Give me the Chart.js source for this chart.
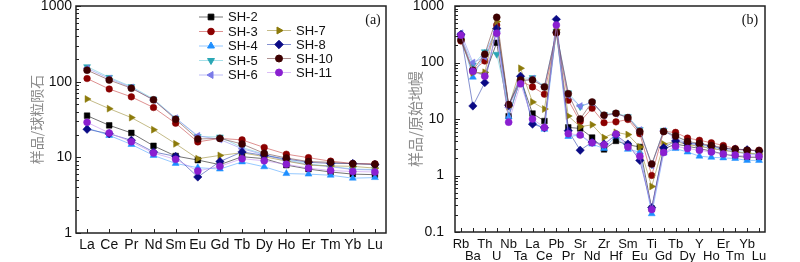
<!DOCTYPE html>
<html>
<head>
<meta charset="utf-8">
<script src="https://cdn.jsdelivr.net/npm/chart.js@4.4.0/dist/chart.umd.min.js"></script>
<style>
    html, body { margin: 0; padding: 0; background: #fff; }
    #wrap { position: relative; width: 800px; height: 262px; }
    .panel { position: absolute; top: 0; width: 400px; height: 262px; }
    #panelA { left: 0; }
    #panelB { left: 400px; }
</style>
</head>
<body>
<div id="wrap">
    <div class="panel" id="panelA"><canvas id="reeChart"></canvas></div>
    <div class="panel" id="panelB"><canvas id="spiderChart"></canvas></div>
</div>
<script>
// Samples
const sampleNames = ['SH-2', 'SH-3', 'SH-4', 'SH-5', 'SH-6', 'SH-7', 'SH-8', 'SH-10', 'SH-11'];

// (a) chondrite normalized REE
const reeElements = ['La', 'Ce', 'Pr', 'Nd', 'Sm', 'Eu', 'Gd', 'Tb', 'Dy', 'Ho', 'Er', 'Tm', 'Yb', 'Lu'];
const reeTicks = [1, 10, 100, 1000];
const reeSH2  = [35.5, 26.5, 21, 14.2, 10.4, 9.2, 8.0, 10.2, 9.6, 7.9, 7.0, 6.4, 6.0, 5.9];
const reeSH3  = [110, 80, 63, 45.5, 28.2, 16, 17.8, 17, 13.5, 11, 9.9, 8.9, 8.3, 8.2];
const reeSH4  = [24.5, 19.5, 14.8, 10.6, 8.3, 7.3, 7.0, 8.7, 7.5, 6.1, 6.0, 5.8, 5.3, 5.4];
const reeSH5  = [158, 114, 86, 59, 33, 18.8, 18.6, 13.5, 11, 9.2, 8.2, 7.6, 7.0, 6.9];
const reeSH6  = [150, 110, 84, 57, 33, 19.3, 17.2, 13, 10.8, 9.0, 8.0, 7.5, 6.9, 6.8];
const reeSH7  = [59, 44, 33.5, 23.2, 15.1, 9.6, 10.6, 11.5, 10.2, 8.9, 7.9, 7.7, 7.6, 7.2];
const reeSH8  = [23.5, 20.5, 16.8, 11.8, 10.3, 5.5, 8.8, 11.8, 10.6, 9.5, 8.6, 8.3, 8.3, 8.0];
const reeSH10 = [142, 105, 82, 57.5, 31.8, 17.5, 17.8, 15, 11.3, 9.8, 8.8, 8.6, 8.2, 8.1];
const reeSH11 = [29, 21, 16.1, 11.4, 9.4, 6.6, 7.6, 9.6, 9.0, 8.1, 7.2, 6.7, 6.5, 6.4];

// (b) primitive mantle normalized trace elements
const spiderElements = ['Rb', 'Ba', 'Th', 'U', 'Nb', 'Ta', 'La', 'Ce', 'Pb', 'Pr', 'Sr', 'Nd', 'Zr',
    'Hf', 'Sm', 'Eu', 'Ti', 'Gd', 'Tb', 'Dy', 'Y', 'Ho', 'Er', 'Tm', 'Yb', 'Lu'];
const spiderTicks = [0.1, 1, 10, 100, 1000];
const spSH2  = [280, 70, 60, 224, 11.2, 52, 12.5, 9.2, 350, 7.1, 6.8, 4.7, 2.9, 4.1, 3.5, 3.2, 0.26, 2.95, 3.6, 3.3, 3.0, 2.7, 2.4, 2.2, 2.1, 2.1];
const spSH3  = [240, 72, 106, 460, 17.5, 47, 37, 27.5, 330, 21.5, 9, 15.5, 8.6, 8.9, 9.8, 5.5, 1.0, 6.0, 5.8, 4.6, 4.2, 3.8, 3.4, 3.0, 2.8, 2.8];
const spSH4  = [290, 55, 145, 385, 11, 52, 9, 6.6, 365, 4.9, 5.2, 3.6, 3.0, 5.0, 2.9, 2.6, 0.21, 2.5, 3.0, 2.6, 2.2, 2.1, 2.05, 2.0, 1.85, 1.85];
const spSH5  = [280, 90, 155, 140, 17, 52, 54, 38, 350, 29, 16.5, 20, 12, 12.8, 11, 6.5, 1.55, 6.3, 5.0, 4.0, 3.5, 3.2, 2.9, 2.7, 2.5, 2.4];
const spSH6  = [330, 100, 125, 310, 16, 45, 52, 37, 345, 26, 17, 19.5, 11.5, 12.3, 10.7, 6.4, 1.5, 6.2, 4.6, 3.7, 3.3, 3.0, 2.8, 2.6, 2.4, 2.3];
const spSH7  = [255, 66, 67, 530, 16.5, 79, 20, 15, 380, 11.3, 7.3, 7.9, 4.7, 5.8, 5.3, 3.2, 0.64, 3.6, 4.0, 3.5, 3.3, 3.0, 2.8, 2.6, 2.5, 2.4];
const spSH8  = [315, 17, 44, 400, 17.5, 57, 8.1, 7.0, 580, 6.2, 2.8, 3.9, 3.6, 5.2, 3.6, 1.85, 0.27, 3.1, 4.1, 3.7, 3.6, 3.3, 3.0, 2.9, 2.85, 2.7];
const spSH10 = [250, 73, 140, 630, 18, 49, 49, 37, 340, 28, 10, 20, 11.7, 12.6, 10.6, 6.0, 1.6, 6.0, 5.0, 4.0, 3.7, 3.4, 3.1, 2.9, 2.8, 2.75];
const spSH11 = [305, 70, 57, 330, 8.8, 42, 10, 7.1, 460, 5.5, 5.2, 3.8, 3.5, 5.4, 3.2, 2.2, 0.25, 2.55, 3.3, 3.0, 2.8, 2.6, 2.4, 2.3, 2.2, 2.2];

const reeSeries = [reeSH2, reeSH3, reeSH4, reeSH5, reeSH6, reeSH7, reeSH8, reeSH10, reeSH11];
const spiderSeries = [spSH2, spSH3, spSH4, spSH5, spSH6, spSH7, spSH8, spSH10, spSH11];

// marker + line look per sample
const seriesStyles = [
    { marker: '#000000', line: 'rgba(70,70,70,0.75)',    shape: 'rect',     rot: 0,   r: 4 },
    { marker: '#8b0000', line: 'rgba(200,70,70,0.6)',    shape: 'circle',   rot: 0,   r: 3.3 },
    { marker: '#1e8fff', line: 'rgba(80,165,255,0.6)',   shape: 'triangle', rot: 0,   r: 4 },
    { marker: '#2aa7b5', line: 'rgba(110,205,220,0.6)',  shape: 'triangle', rot: 180, r: 4 },
    { marker: '#7b7be8', line: 'rgba(145,145,240,0.6)',  shape: 'triangle', rot: -90, r: 4 },
    { marker: '#8c7a0a', line: 'rgba(165,150,70,0.65)',  shape: 'triangle', rot: 90,  r: 4 },
    { marker: '#0a0a85', line: 'rgba(50,70,175,0.6)',    shape: 'rectRot',  rot: 0,   r: 4.2 },
    { marker: '#3d0000', line: 'rgba(120,70,70,0.6)',    shape: 'circle',   rot: 0,   r: 3.5 },
    { marker: '#8a1fd0', line: 'rgba(195,145,240,0.6)',  shape: 'circle',   rot: 0,   r: 3.5 }
];

const tickFont = 'Liberation Sans, Arial, sans-serif';

function buildDatasets(series) {
    return series.map((values, i) => {
        const st = seriesStyles[i];
        return {
            label: sampleNames[i],
            data: values,
            borderColor: st.line,
            borderWidth: 1,
            pointStyle: st.shape,
            pointRotation: st.rot,
            pointRadius: st.r,
            pointBackgroundColor: st.marker,
            pointBorderColor: st.marker,
            pointBorderWidth: 0.5,
            order: series.length - i,
            tension: 0
        };
    });
}

function minorValues(ticks) {
    const out = [];
    for (let k = 0; k < ticks.length - 1; k++) {
        for (let m = 2; m <= 9; m++) out.push(ticks[k] * m);
    }
    return out;
}

// frame, inward ticks, panel tag and (optionally) legend
function framePlugin(tag, tagX, majors, withLegend) {
    return {
        id: 'frame' + tag,
        afterDraw(chart) {
            const { ctx, chartArea: a, scales: { x, y } } = chart;
            ctx.save();
            ctx.strokeStyle = '#222';
            ctx.lineWidth = 1.5;
            ctx.strokeRect(a.left, a.top, a.right - a.left, a.bottom - a.top);

            ctx.lineWidth = 1;
            ctx.beginPath();
            x.ticks.forEach((t, i) => {
                const px = Math.round(x.getPixelForTick(i)) + 0.5;
                ctx.moveTo(px, a.bottom);
                ctx.lineTo(px, a.bottom - 4);
            });
            majors.forEach(v => {
                const py = Math.round(y.getPixelForValue(v)) + 0.5;
                ctx.moveTo(a.left, py);
                ctx.lineTo(a.left + 5, py);
            });
            minorValues(majors).forEach(v => {
                const py = Math.round(y.getPixelForValue(v)) + 0.5;
                ctx.moveTo(a.left, py);
                ctx.lineTo(a.left + 3, py);
            });
            ctx.stroke();

            ctx.fillStyle = '#111';
            ctx.font = '14px "Liberation Serif", "Times New Roman", serif';
            ctx.textAlign = 'center';
            ctx.textBaseline = 'middle';
            ctx.fillText(tag, tagX, 20);

            if (withLegend) drawLegend(chart);
            ctx.restore();
        }
    };
}

function drawLegend(chart) {
    const ctx = chart.ctx;
    // two columns: 5 entries then 4 entries
    const cols = [
        { x: 199, rows: [17, 31.5, 46, 60.5, 75] },
        { x: 267, rows: [30.5, 44.5, 58.5, 72.5] }
    ];
    ctx.font = '13px ' + tickFont;
    ctx.textAlign = 'left';
    ctx.textBaseline = 'middle';
    sampleNames.forEach((name, i) => {
        const col = i < 5 ? cols[0] : cols[1];
        const y = i < 5 ? col.rows[i] : col.rows[i - 5];
        const st = seriesStyles[i];
        ctx.strokeStyle = st.line;
        ctx.lineWidth = 1;
        ctx.beginPath();
        ctx.moveTo(col.x, y);
        ctx.lineTo(col.x + 24, y);
        ctx.stroke();
        ctx.fillStyle = st.marker;
        ctx.strokeStyle = st.marker;
        Chart.helpers.drawPoint(ctx, {
            pointStyle: st.shape, radius: st.r, rotation: st.rot, borderWidth: 0.5
        }, col.x + 12, y);
        ctx.fillStyle = '#111';
        ctx.fillText(name, col.x + 29, y + 0.5);
    });
}

function createChart(canvasId, opts) {
    const ctx = document.getElementById(canvasId).getContext('2d');
    return new Chart(ctx, {
        type: 'line',
        data: { labels: opts.labels, datasets: buildDatasets(opts.series) },
        options: {
            responsive: true,
            maintainAspectRatio: false,
            animation: false,
            layout: { padding: { top: 6, right: opts.padRight, left: 0, bottom: 0 } },
            plugins: { legend: { display: false }, tooltip: { enabled: false } },
            scales: {
                x: {
                    type: 'category',
                    offset: true,
                    grid: { display: false, drawTicks: false },
                    border: { display: false },
                    ticks: {
                        color: '#111',
                        autoSkip: false,
                        maxRotation: 0,
                        padding: opts.xPad,
                        font: { family: tickFont, size: opts.xFont, lineHeight: opts.xLine },
                        callback: opts.xCallback
                    },
                    afterFit: s => { s.height = opts.xHeight; s.paddingLeft = 0; s.paddingRight = 0; }
                },
                y: {
                    type: 'logarithmic',
                    min: opts.ticks[0],
                    max: opts.ticks[opts.ticks.length - 1],
                    grid: { display: false, drawTicks: false },
                    border: { display: false },
                    ticks: {
                        color: '#111',
                        padding: opts.yPad,
                        font: { family: tickFont, size: 14 },
                        callback: v => String(v)
                    },
                    afterBuildTicks: s => { s.ticks = opts.ticks.map(v => ({ value: v })); },
                    afterFit: s => { s.width = opts.yWidth; s.paddingTop = 0; s.paddingBottom = 0; },
                    title: {
                        display: true,
                        text: opts.yTitle,
                        color: '#8c8c8c',
                        font: { family: '"Noto Sans CJK SC", sans-serif', size: opts.yTitleSize },
                        padding: { top: opts.yTitlePad, bottom: 0 }
                    }
                }
            }
        },
        plugins: [framePlugin(opts.tag, opts.tagX, opts.ticks, opts.legend)]
    });
}

createChart('reeChart', {
    labels: reeElements,
    series: reeSeries,
    ticks: reeTicks,
    padRight: 14,
    xPad: 4, xFont: 14, xLine: 1.2, xHeight: 29,
    xCallback: function (v, i) { return this.getLabelForValue(v); },
    yPad: 4, yWidth: 76,
    yTitle: '样品/球粒陨石', yTitleSize: 14, yTitlePad: 28,
    tag: '(a)', tagX: 373,
    legend: true
});

createChart('spiderChart', {
    labels: spiderElements,
    series: spiderSeries,
    ticks: spiderTicks,
    padRight: 35,
    xPad: 7, xFont: 13, xLine: 0.9, xHeight: 30,
    // alternate elements go to a second row
    xCallback: function (v, i) {
        const name = this.getLabelForValue(v);
        return i % 2 ? ['', name] : name;
    },
    yPad: 11, yWidth: 55,
    yTitle: '样品/原始地幔', yTitleSize: 15, yTitlePad: 6,
    tag: '(b)', tagX: 350,
    legend: false
});
</script>
</body>
</html>
